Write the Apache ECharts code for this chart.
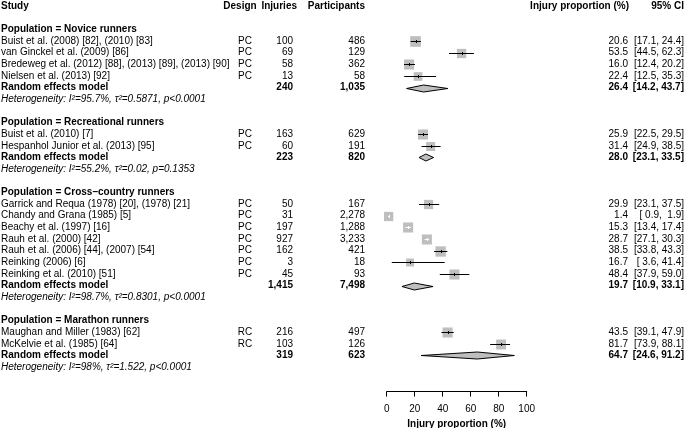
<!DOCTYPE html>
<html><head><meta charset="utf-8">
<script src="https://cdn.jsdelivr.net/npm/echarts@6/dist/echarts.min.js"></script>
<style>html,body{margin:0;padding:0;background:#fff}#c{width:685px;height:428px}</style>
</head><body><div id="c"></div>
<script>
// ---------- DATA ----------
const groupNames = ["Novice runners", "Recreational runners", "Cross\u2013country runners", "Marathon runners"];
const studyGroup = [0, 0, 0, 0, 1, 1, 2, 2, 2, 2, 2, 2, 2, 3, 3];
const studyNames = [
  "Buist et al. (2008) [82], (2010) [83]",
  "van Ginckel et al. (2009) [86]",
  "Bredeweg et al. (2012) [88], (2013) [89], (2013) [90]",
  "Nielsen et al. (2013) [92]",
  "Buist et al. (2010) [7]",
  "Hespanhol Junior et al. (2013) [95]",
  "Garrick and Requa (1978) [20], (1978) [21]",
  "Chandy and Grana (1985) [5]",
  "Beachy et al. (1997) [16]",
  "Rauh et al. (2000) [42]",
  "Rauh et al. (2006) [44], (2007) [54]",
  "Reinking (2006) [6]",
  "Reinking et al. (2010) [51]",
  "Maughan and Miller (1983) [62]",
  "McKelvie et al. (1985) [64]"
];
const designs = ["PC", "PC", "PC", "PC", "PC", "PC", "PC", "PC", "PC", "PC", "PC", "PC", "PC", "RC", "RC"];
const injuries = [100, 69, 58, 13, 163, 60, 50, 31, 197, 927, 162, 3, 45, 216, 103];
const participants = [486, 129, 362, 58, 629, 191, 167, 2278, 1288, 3233, 421, 18, 93, 497, 126];
const estimates = [20.6, 53.5, 16.0, 22.4, 25.9, 31.4, 29.9, 1.4, 15.3, 28.7, 38.5, 16.7, 48.4, 43.5, 81.7];
const ciLower = [17.1, 44.5, 12.4, 12.5, 22.5, 24.9, 23.1, 0.9, 13.4, 27.1, 33.8, 3.6, 37.9, 39.1, 73.9];
const ciUpper = [24.4, 62.3, 20.2, 35.3, 29.5, 38.5, 37.5, 1.9, 17.4, 30.3, 43.3, 41.4, 59.0, 47.9, 88.1];
// relative weights (%), estimated from square sizes
const weights = [7.1, 6.2, 6.7, 5.8, 6.7, 6.0, 6.2, 6.2, 6.7, 6.7, 6.9, 5.3, 6.7, 6.7, 6.6];
const pooledInjuries = [240, 223, 1415, 319];
const pooledParticipants = [1035, 820, 7498, 623];
const pooledEst = [26.4, 28.0, 19.7, 64.7];
const pooledLower = [14.2, 23.1, 10.9, 24.6];
const pooledUpper = [43.7, 33.5, 33.1, 91.2];
const hetI2 = ["95.7%", "55.2%", "98.7%", "98%"];
const hetTau2 = ["0.5871", "0.02", "0.8301", "1.522"];
const hetP = ["p<0.0001", "p=0.1353", "p<0.0001", "p<0.0001"];
const columnHeaders = ["Study", "Design", "Injuries", "Participants", "Injury proportion (%)", "95% CI"];
const xTicks = [0, 20, 40, 60, 80, 100];
const axisTitle = "Injury proportion (%)";

// ---------- LAYOUT (rows) ----------
const fmtN = n => n.toLocaleString('en-US');
const pad = v => { const s = v.toFixed(1); return s.length < 4 ? ' '.repeat(4 - s.length) + s : s; };
const fmtCI = (l, h) => '[' + pad(l) + ', ' + pad(h) + ']';

const textRows = [];
const studyMarks = [];
const diamondMarks = [];
textRows.push({row: 0, kind: 'head', cells: columnHeaders});
let r = 2;
groupNames.forEach((g, gi) => {
  textRows.push({row: r, kind: 'group', cells: ['Population = ' + g]});
  r++;
  studyNames.forEach((s, i) => {
    if (studyGroup[i] !== gi) return;
    textRows.push({row: r, kind: 'study', cells: [s, designs[i], fmtN(injuries[i]), fmtN(participants[i]), estimates[i].toFixed(1), fmtCI(ciLower[i], ciUpper[i])]});
    studyMarks.push([estimates[i], ciLower[i], ciUpper[i], r, weights[i]]);
    r++;
  });
  textRows.push({row: r, kind: 'pooled', cells: ['Random effects model', '', fmtN(pooledInjuries[gi]), fmtN(pooledParticipants[gi]), pooledEst[gi].toFixed(1), fmtCI(pooledLower[gi], pooledUpper[gi])]});
  diamondMarks.push([pooledEst[gi], pooledLower[gi], pooledUpper[gi], r]);
  r++;
  textRows.push({row: r, kind: 'het', cells: ['Heterogeneity: I\u00b2=' + hetI2[gi] + ', \u03c4\u00b2=' + hetTau2[gi] + ', ' + hetP[gi]]});
  r += 2;
});

const FONT = '"Liberation Sans", Arial, Helvetica, sans-serif';
const colX = [1, 245, 293, 365, 628, 684];
const headX = [1, 240, 297, 365, 629, 684];
const colAlign = ['left', 'center', 'right', 'right', 'right', 'right'];
const snap = v => Math.round(v) + 0.5;

const chart = echarts.init(document.getElementById('c'));
chart.setOption({
  animation: false,
  backgroundColor: '#fff',
  grid: {left: 386.7, right: 158.3, top: 6, bottom: 36.4, outerBoundsMode: 'none', containLabel: false},
  xAxis: {
    type: 'value', min: 0, max: 100, interval: 20,
    splitLine: {show: false},
    axisLine: {show: true, onZero: false, lineStyle: {color: '#000', width: 1}},
    axisTick: {show: true, length: 5, lineStyle: {color: '#000'}},
    axisLabel: {color: '#000', fontSize: 10, fontFamily: FONT, margin: 13,
      formatter: v => xTicks.includes(v) ? String(v) : ''},
    name: axisTitle, nameLocation: 'middle', nameGap: 24,
    nameTextStyle: {color: '#000', fontSize: 10, fontWeight: 'bold', fontFamily: FONT}
  },
  yAxis: {type: 'value', inverse: true, min: 0, max: 33.1, show: false},
  series: [
    {
      type: 'custom', clip: false, silent: true,
      data: textRows.map((t, i) => [0, t.row, i]),
      encode: {x: 0, y: 1},
      renderItem: (params, api) => {
        const t = textRows[api.value(2)];
        const y = api.coord([0, api.value(1)])[1];
        const bold = t.kind === 'head' || t.kind === 'group' || t.kind === 'pooled';
        const italic = t.kind === 'het';
        const xs = t.kind === 'head' ? headX : colX;
        const children = t.cells.map((c, ci) => ({
          type: 'text', x: xs[ci], y: y,
          style: {
            text: c, fill: '#000',
            font: (italic ? 'italic ' : '') + (bold ? 'bold ' : '') + '10px ' + FONT,
            align: colAlign[ci], verticalAlign: 'middle'
          }
        }));
        return {type: 'group', children};
      }
    },
    {
      type: 'custom', clip: false, silent: true,
      data: studyMarks,
      encode: {x: [0, 1, 2], y: 3},
      renderItem: (params, api) => {
        const row = api.value(3);
        const c = api.coord([api.value(0), row]);
        const l = api.coord([api.value(1), row]);
        const h = api.coord([api.value(2), row]);
        const s = api.value(4) * 1.5;
        const inside = (h[0] - l[0]) < s - 1;
        const col = inside ? '#fff' : '#000';
        const y = snap(c[1]);
        return {type: 'group', children: [
          {type: 'rect', shape: {x: c[0] - s / 2, y: y - s / 2, width: s, height: s}, style: {fill: '#bebebe'}},
          {type: 'line', shape: {x1: l[0], y1: y, x2: h[0], y2: y}, style: {stroke: col, lineWidth: 1}},
          {type: 'line', shape: {x1: snap(c[0]), y1: y - 1.5, x2: snap(c[0]), y2: y + 1.5}, style: {stroke: col, lineWidth: 1}}
        ]};
      }
    },
    {
      type: 'custom', clip: false, silent: true,
      data: diamondMarks,
      encode: {x: [0, 1, 2], y: 3},
      renderItem: (params, api) => {
        const row = api.value(3);
        const c = api.coord([api.value(0), row]);
        const l = api.coord([api.value(1), row]);
        const h = api.coord([api.value(2), row]);
        const hh = 3.5;
        const y = snap(c[1]);
        return {type: 'polygon', shape: {points: [[l[0], y], [c[0], y - hh], [h[0], y], [c[0], y + hh]]},
          style: {fill: '#bebebe', stroke: '#000', lineWidth: 1}};
      }
    }
  ]
});
</script></body></html>
